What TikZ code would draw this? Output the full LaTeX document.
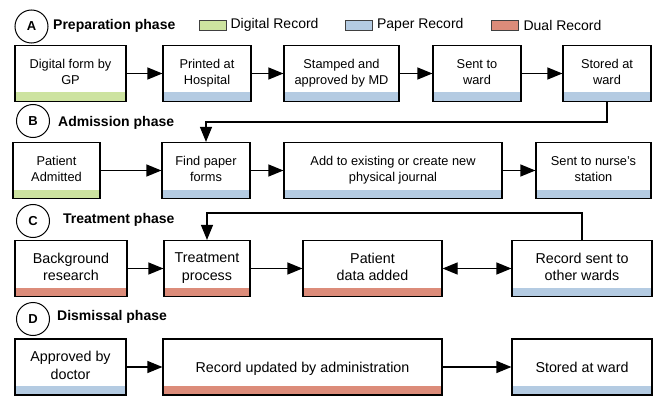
\documentclass[tikz,border=0pt]{standalone}
\usepackage{fontspec}
\setmainfont{Liberation Sans}
\usetikzlibrary{arrows.meta}
\definecolor{digital}{HTML}{CDE3A0}
\definecolor{paper}{HTML}{B4CBE2}
\definecolor{dual}{HTML}{DC8C7A}

\begin{document}
\begin{tikzpicture}[x=1pt,y=-1pt,
  box/.style={draw,line width=1.2pt,align=center,minimum height=56pt,inner sep=2pt,
    text depth=3.5pt,font=\fontsize{12.8}{16}\selectfont,
    path picture={\fill[#1] ([yshift=9pt]path picture bounding box.south west)
      rectangle (path picture bounding box.south east);}},
  big/.style={font=\fontsize{14.3}{17.5}\selectfont},
  phase/.style={circle,draw,line width=1pt,minimum size=33pt,inner sep=0pt,
    font=\bfseries\fontsize{13}{13}\selectfont},
  head/.style={anchor=west,inner sep=0pt,font=\bfseries\fontsize{14}{16}\selectfont},
  key/.style={draw=black!75,line width=0.8pt,minimum width=27pt,minimum height=10pt,inner sep=0pt},
  keytext/.style={anchor=west,inner sep=0pt,font=\fontsize{14}{16}\selectfont},
  arr/.style={line width=1.2pt,-{Triangle[length=15pt,width=12pt]}},
  dbl/.style={line width=1.2pt,{Triangle[length=15pt,width=12pt]}-{Triangle[length=15pt,width=12pt]}}
  ]
  \useasboundingbox (0,0) rectangle (657,396);

  % legend
  \node[key,fill=digital] (kd) at (212.5,25) {};
  \node[keytext] (ld) at ([xshift=4pt]kd.east) {Digital Record};
  \node[key,fill=paper] (kp) at (359,25) {};
  \node[keytext] (lp) at ([xshift=4pt]kp.east) {Paper Record};
  \node[key,fill=dual] (kx) at (504.5,25) {};
  \node[keytext] (lx) at ([xshift=5pt]kx.east) {Dual Record};

  % A
  \node[phase] (pa) at (31.5,26.5) {A};
  \node[head] (ha) at (53,26) {Preparation phase};
  \node[box=digital,minimum width=111pt] (a1) at (70.5,73.5) {Digital form by\\GP};
  \node[box=paper,minimum width=88pt] (a2) at (207,73.5) {Printed at\\Hospital};
  \node[box=paper,minimum width=115pt] (a3) at (341.5,73.5) {Stamped and\\approved by MD};
  \node[box=paper,minimum width=88pt] (a4) at (477,73.5) {Sent to\\ward};
  \node[box=paper,minimum width=88pt] (a5) at (607,73.5) {Stored at\\ward};

  % B
  \node[phase] (pb) at (33,121) {B};
  \node[head] (hb) at (58,123) {Admission phase};
  \node[box=digital,minimum width=87pt] (b1) at (56.5,170.5) {Patient\\Admitted};
  \node[box=paper,minimum width=88pt] (b2) at (206,170.5) {Find paper\\forms};
  \node[box=paper,minimum width=218pt] (b3) at (393,170.5) {Add to existing or create new\\physical journal};
  \node[box=paper,minimum width=115pt] (b4) at (593.5,170.5) {Sent to nurse's\\station};

  % C
  \node[phase] (pc) at (33,221) {C};
  \node[head] (hc) at (63,220) {Treatment phase};
  \node[box=dual,big,minimum width=112pt] (c1) at (71,268.5) {Background\\research};
  \node[box=dual,big,minimum width=86pt] (c2) at (207,268.5) {Treatment\\process};
  \node[box=dual,big,minimum width=139pt] (c3) at (372.5,268.5) {Patient\\data added};
  \node[box=paper,big,minimum width=140pt] (c4) at (582,268.5) {Record sent to\\other wards};

  % D
  \node[phase] (pd) at (33,319) {D};
  \node[head] (hd) at (57,317) {Dismissal phase};
  \node[box=paper,big,minimum width=111pt] (d1) at (70.5,367) {Approved by\\doctor};
  \node[box=dual,big,text depth=0pt,minimum width=279pt] (d2) at (302.5,367) {Record updated by administration};
  \node[box=paper,big,text depth=0pt,minimum width=140pt] (d3) at (582,367) {Stored at ward};

  \path[arr]
  (a1) edge (a2)
  (a2) edge (a3)
  (a3) edge (a4)
  (a4) edge (a5)
  (b1) edge (b2)
  (b2) edge (b3)
  (b3) edge (b4)
  (c1) edge (c2)
  (c2) edge (c3)
  (d1) edge (d2)
  (d2) edge (d3)
  ;
  \path[dbl] (c3) edge (c4);
  \draw[arr] (a5.south) -- ++(0,20) -| (b2.north);
  \draw[arr] (c4.north) -- ++(0,-27) -| (c2.north);
\end{tikzpicture}
\end{document}
